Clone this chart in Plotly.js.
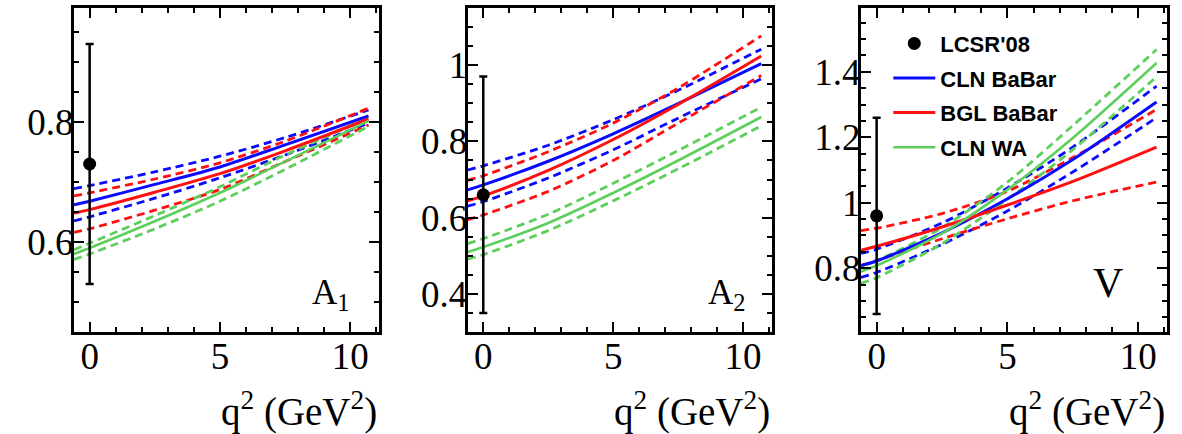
<!DOCTYPE html>
<html>
<head>
<meta charset="utf-8">
<script src="https://cdn.plot.ly/plotly-3.0.1.min.js"></script>
<style>
  html, body { margin: 0; padding: 0; background: #fff; }
  #chart { width: 1182px; height: 434px; }
</style>
</head>
<body>
<div id="chart"></div>
<script>
// q^2 sample points (GeV^2) for the form-factor curves
const q2 = [-0.6, 0, 2.5, 5, 7.5, 10.7];

// A1 form factor
const a1ClnBabar    = [0.662, 0.668, 0.696, 0.725, 0.762, 0.810];
const a1ClnBabarUp  = [0.689, 0.694, 0.717, 0.743, 0.774, 0.820];
const a1ClnBabarLo  = [0.635, 0.642, 0.673, 0.707, 0.745, 0.798];
const a1BglBabar    = [0.648, 0.654, 0.683, 0.714, 0.752, 0.805];
const a1BglBabarUp  = [0.677, 0.682, 0.705, 0.732, 0.768, 0.823];
const a1BglBabarLo  = [0.616, 0.622, 0.653, 0.6875, 0.734, 0.795];
const a1ClnWa       = [0.580, 0.590, 0.6345, 0.682, 0.734, 0.802];
const a1ClnWaUp     = [0.587, 0.598, 0.644, 0.692, 0.745, 0.806];
const a1ClnWaLo     = [0.571, 0.580, 0.622, 0.668, 0.721, 0.793];

// A2 form factor
const a2ClnBabar    = [0.673, 0.686, 0.748, 0.820, 0.899, 1.004];
const a2ClnBabarUp  = [0.725, 0.736, 0.790, 0.857, 0.934, 1.042];
const a2ClnBabarLo  = [0.630, 0.642, 0.704, 0.778, 0.861, 0.964];
const a2BglBabar    = [0.644, 0.657, 0.724, 0.805, 0.897, 1.024];
const a2BglBabarUp  = [0.698, 0.710, 0.773, 0.848, 0.940, 1.077];
const a2BglBabarLo  = [0.595, 0.607, 0.669, 0.750, 0.848, 0.973];
const a2ClnWa       = [0.510, 0.523, 0.586, 0.665, 0.750, 0.864];
const a2ClnWaUp     = [0.532, 0.545, 0.609, 0.690, 0.776, 0.890];
const a2ClnWaLo     = [0.491, 0.503, 0.566, 0.644, 0.728, 0.841];

// V form factor
const vClnBabar     = [0.808, 0.822, 0.908, 1.012, 1.132, 1.308];
const vClnBabarUp   = [0.845, 0.858, 0.938, 1.045, 1.170, 1.356];
const vClnBabarLo   = [0.772, 0.787, 0.873, 0.975, 1.094, 1.260];
const vBglBabar     = [0.855, 0.867, 0.926, 0.993, 1.065, 1.170];
const vBglBabarUp   = [0.915, 0.922, 0.967, 1.035, 1.138, 1.285];
const vBglBabarLo   = [0.808, 0.824, 0.890, 0.951, 1.006, 1.063];
const vClnWa        = [0.790, 0.808, 0.906, 1.040, 1.198, 1.427];
const vClnWaUp      = [0.806, 0.823, 0.924, 1.063, 1.236, 1.468];
const vClnWaLo      = [0.754, 0.771, 0.875, 1.010, 1.162, 1.385];

// LCSR'08 values at q^2 = 0 with symmetric errors: A1, A2, V
const lcsrQ2  = [0];
const lcsrVal = [0.73, 0.66, 0.96];
const lcsrErr = [0.20, 0.31, 0.30];

const panelLabels = ['A<sub>1</sub>', 'A<sub>2</sub>', 'V'];
const axisTitle = 'q<sup>2</sup> (GeV<sup>2</sup>)';

const BLUE = '#0a0aff', RED = '#ff1010', GREEN = '#5ccf5c';
const DASH = '8px,5px';

const panels = [
  { sets: [[a1ClnBabar, a1ClnBabarUp, a1ClnBabarLo], [a1BglBabar, a1BglBabarUp, a1BglBabarLo], [a1ClnWa, a1ClnWaUp, a1ClnWaLo]] },
  { sets: [[a2ClnBabar, a2ClnBabarUp, a2ClnBabarLo], [a2BglBabar, a2BglBabarUp, a2BglBabarLo], [a2ClnWa, a2ClnWaUp, a2ClnWaLo]] },
  { sets: [[vClnBabar, vClnBabarUp, vClnBabarLo], [vBglBabar, vBglBabarUp, vBglBabarLo], [vClnWa, vClnWaUp, vClnWaLo]] }
];
const seriesNames = ['CLN BaBar', 'BGL BaBar', 'CLN WA'];
const seriesColors = [BLUE, RED, GREEN];
const solidWidths = [3, 3, 2.6];

const traces = [];
panels.forEach((p, i) => {
  const xa = i === 0 ? 'x' : 'x' + (i + 1);
  const ya = i === 0 ? 'y' : 'y' + (i + 1);
  // dashed bands first, then central curves on top
  p.sets.forEach((s, k) => {
    [s[1], s[2]].forEach(band => {
      traces.push({
        x: q2, y: band, xaxis: xa, yaxis: ya, mode: 'lines', type: 'scatter',
        line: { color: seriesColors[k], width: 2.8, dash: DASH, shape: 'spline', smoothing: 0.8 },
        showlegend: false, hoverinfo: 'skip'
      });
    });
  });
  p.sets.forEach((s, k) => {
    traces.push({
      x: q2, y: s[0], xaxis: xa, yaxis: ya, mode: 'lines', type: 'scatter',
      name: seriesNames[k], legendgroup: seriesNames[k], legendrank: k + 2,
      line: { color: seriesColors[k], width: solidWidths[k], shape: 'spline', smoothing: 0.8 },
      showlegend: i === 2
    });
  });
  traces.push({
    x: lcsrQ2, y: [lcsrVal[i]], xaxis: xa, yaxis: ya, mode: 'markers', type: 'scatter',
    name: "LCSR'08", legendgroup: 'lcsr', legendrank: 1,
    marker: { color: 'black', size: 13 },
    error_y: { type: 'data', array: [lcsrErr[i]], visible: true, color: 'black', thickness: 2.5, width: 4 },
    showlegend: i === 2
  });
});

const serif = 'Liberation Serif, Times New Roman, serif';
function xAxis(domain, anchor) {
  return {
    domain: domain, anchor: anchor, range: [-0.6, 11.1],
    tick0: 0, dtick: 5, ticks: 'inside', ticklen: 10, tickwidth: 2, tickcolor: 'black',
    minor: { dtick: 1, ticks: 'inside', ticklen: 5, tickwidth: 2, tickcolor: 'black' },
    showline: true, linewidth: 3, linecolor: 'black', mirror: 'allticks',
    showgrid: false, zeroline: false, ticklabelstandoff: -10,
    tickfont: { family: serif, size: 37, color: 'black' }
  };
}
function yAxis(range, minorDtick, anchor) {
  return {
    anchor: anchor, range: range,
    dtick: 0.2, tick0: 0, ticks: 'inside', ticklen: 10, tickwidth: 2, tickcolor: 'black',
    minor: { dtick: minorDtick, ticks: 'inside', ticklen: 5, tickwidth: 2, tickcolor: 'black' },
    showline: true, linewidth: 3, linecolor: 'black', mirror: 'allticks',
    showgrid: false, zeroline: false, ticklabelstandoff: -10,
    tickfont: { family: serif, size: 37, color: 'black' }
  };
}

const annotations = [];
const labelShift = [[-27, 14, 35], [-24, 14, 35], [-42, 24, 42]];
for (let i = 0; i < 3; i++) {
  const sfx = i === 0 ? '' : String(i + 1);
  annotations.push({
    text: axisTitle, showarrow: false,
    xref: 'x' + sfx + ' domain', yref: 'y' + sfx + ' domain',
    x: 1, y: -0.238, xanchor: 'right', yanchor: 'middle',
    font: { family: serif, size: 39, color: 'black' }
  });
  annotations.push({
    text: panelLabels[i], showarrow: false,
    xref: 'x' + sfx + ' domain', yref: 'y' + sfx + ' domain',
    x: 1, y: 0, xanchor: 'right', yanchor: 'bottom',
    xshift: labelShift[i][0], yshift: labelShift[i][1],
    font: { family: serif, size: labelShift[i][2], color: 'black' }
  });
}

const layout = {
  width: 1182, height: 434,
  margin: { l: 74, r: 15, t: 8, b: 102, pad: 0 },
  paper_bgcolor: 'white', plot_bgcolor: 'white',
  showlegend: true,
  legend: {
    x: 0.745, y: 0.955, xanchor: 'left', yanchor: 'top',
    bgcolor: 'rgba(0,0,0,0)', borderwidth: 0,
    traceorder: 'grouped', tracegroupgap: 3, itemwidth: 42,
    font: { family: 'Liberation Sans, Arial, sans-serif', size: 22, color: 'black', weight: 'bold' }
  },
  xaxis: xAxis([0, 0.279], 'y'),
  xaxis2: xAxis([0.3602, 0.6383], 'y2'),
  xaxis3: xAxis([0.72, 1], 'y3'),
  yaxis: yAxis([0.45, 0.99], 0.05, 'x'),
  yaxis2: yAxis([0.30, 1.15], 0.05, 'x2'),
  yaxis3: yAxis([0.605, 1.595], 0.05, 'x3'),
  annotations: annotations
};

Plotly.newPlot('chart', traces, layout, { displayModeBar: false, staticPlot: true });
</script>
</body>
</html>
